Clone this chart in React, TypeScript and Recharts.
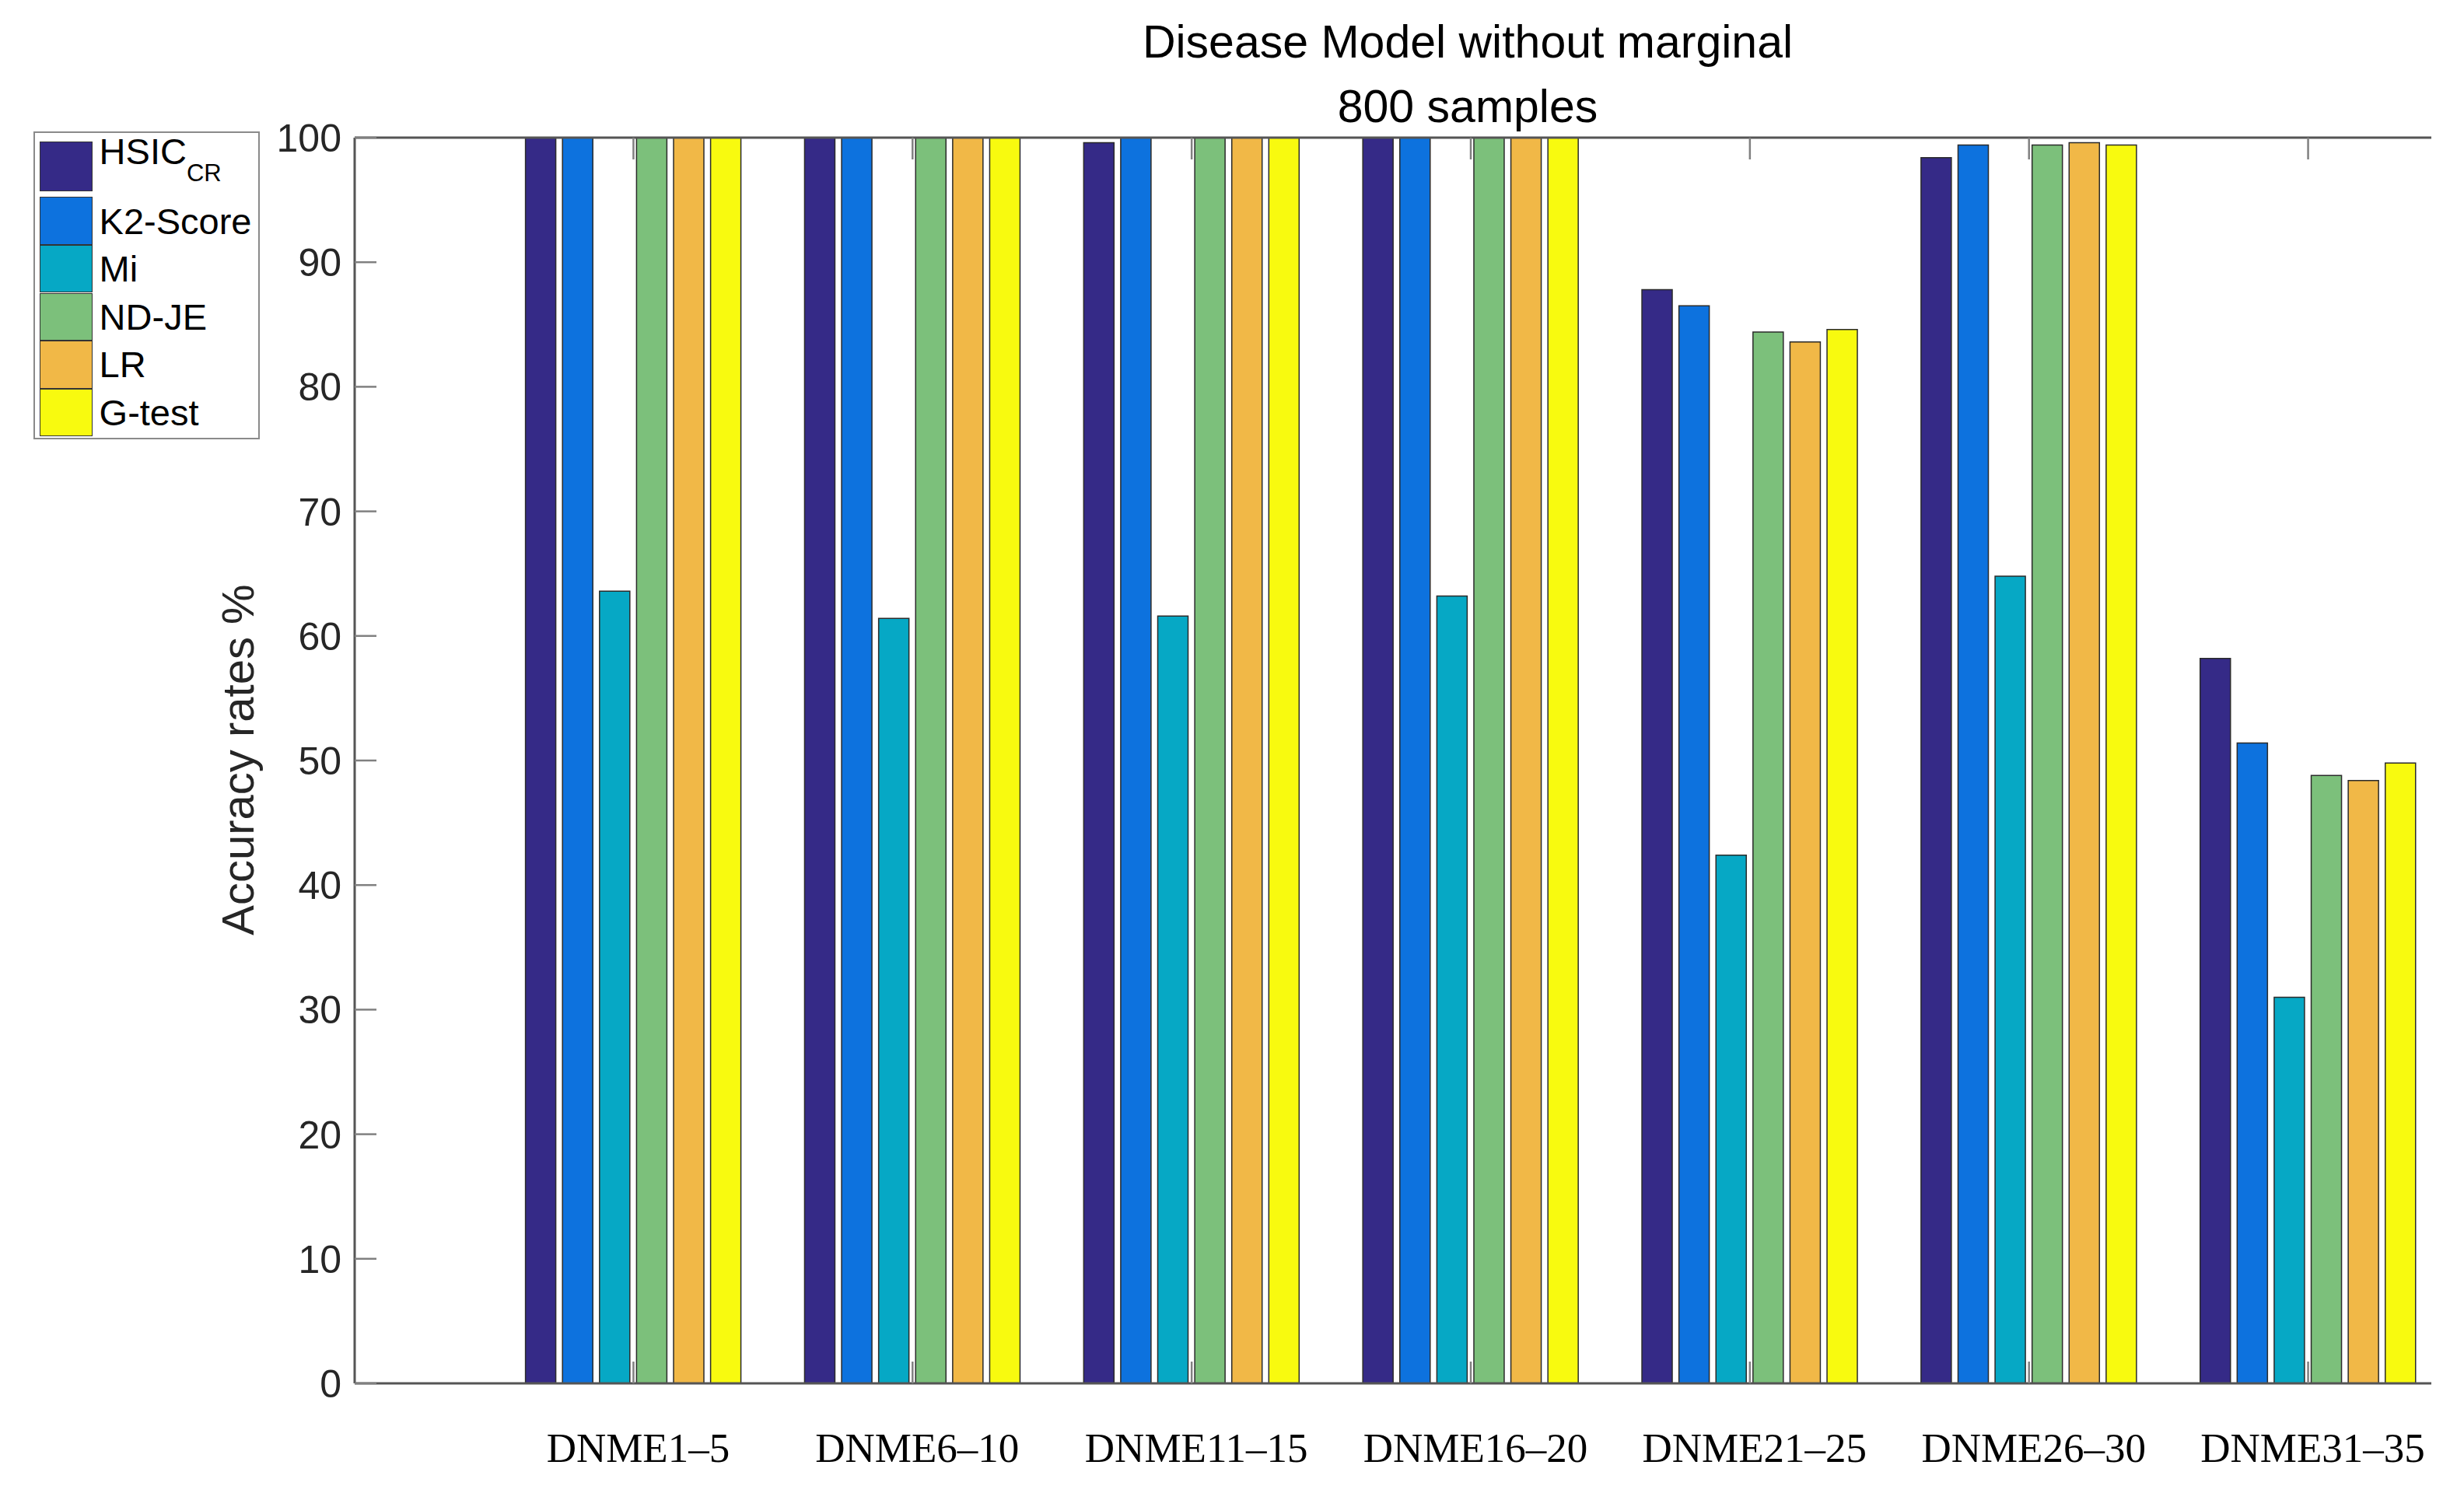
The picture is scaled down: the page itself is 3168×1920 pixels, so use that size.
import React from "react";
import { Bar, BarChart, ReferenceLine, XAxis, YAxis } from "recharts";

const CATEGORIES = [
  "DNME1–5", "DNME6–10", "DNME11–15", "DNME16–20", "DNME21–25", "DNME26–30", "DNME31–35",
];
const HSIC = [100, 100, 99.6, 100, 87.8, 98.4, 58.2];
const K2 = [100, 100, 100, 100, 86.5, 99.4, 51.4];
const MI = [63.6, 61.4, 61.6, 63.2, 42.4, 64.8, 31.0];
const NDJE = [100, 100, 100, 100, 84.4, 99.4, 48.8];
const LR = [100, 100, 100, 100, 83.6, 99.6, 48.4];
const GTEST = [100, 100, 100, 100, 84.6, 99.4, 49.8];
const Y_TICKS = [0, 10, 20, 30, 40, 50, 60, 70, 80, 90, 100];

const SERIES = [
  { key: "hsic", name: "HSIC", sub: "CR", color: "#352A87", values: HSIC },
  { key: "k2", name: "K2-Score", sub: "", color: "#0D72DE", values: K2 },
  { key: "mi", name: "Mi", sub: "", color: "#06A8C5", values: MI },
  { key: "ndje", name: "ND-JE", sub: "", color: "#7CC07B", values: NDJE },
  { key: "lr", name: "LR", sub: "", color: "#F1B847", values: LR },
  { key: "gtest", name: "G-test", sub: "", color: "#F8FA0F", values: GTEST },
];

const data = CATEGORIES.map((name, i) => {
  const row: Record<string, string | number> = { name };
  SERIES.forEach((s) => { row[s.key] = s.values[i]; });
  return row;
});

const W = 3168;
const H = 1920;
const PLOT_LEFT = 456;
const PLOT_RIGHT = 3126;
const PLOT_TOP = 177;
const PLOT_BOTTOM = 1779;
const TICK_LEN = 28;
const SANS = "'Liberation Sans', Arial, Helvetica, sans-serif";
const SERIF = "'Liberation Serif', 'Times New Roman', serif";

function YTick({ y, payload }: any) {
  return (
    <g>
      <line x1={PLOT_LEFT} x2={PLOT_LEFT + TICK_LEN} y1={y} y2={y} stroke="#808080" strokeWidth={2.5} />
      <text x={PLOT_LEFT - 17} y={y} dy="0.36em" textAnchor="end" fontSize={50} fontFamily={SANS} fill="#262626">
        {payload.value}
      </text>
    </g>
  );
}

function XTick({ x, payload }: any) {
  return (
    <g>
      <line x1={x} x2={x} y1={PLOT_BOTTOM} y2={PLOT_BOTTOM - TICK_LEN} stroke="#808080" strokeWidth={2.5} />
      <line x1={x} x2={x} y1={PLOT_TOP} y2={PLOT_TOP + TICK_LEN} stroke="#808080" strokeWidth={2.5} />
      <text x={x + 6} y={1880} textAnchor="middle" fontSize={53} fontFamily={SERIF} fill="#000">
        {payload.value}
      </text>
    </g>
  );
}

function YLabel() {
  return (
    <text
      x={326} y={977} transform="rotate(-90, 326, 977)" textAnchor="middle"
      fontSize={58} fontFamily={SANS} fill="#262626"
    >
      Accuracy rates %
    </text>
  );
}

function LegendBox() {
  return (
    <div
      style={{
        position: "absolute", left: 43, top: 169, width: 291, height: 396,
        border: "2px solid #8a8a8a", boxSizing: "border-box", background: "#fff",
        fontFamily: SANS, fontSize: 47, color: "#000",
      }}
    >
      {SERIES.map((s, i) => {
        const top = i === 0 ? 11 : 82.3 + (i - 1) * 61.6;
        const h = i === 0 ? 64 : 61.6;
        return (
          <div key={s.key} style={{ position: "absolute", left: 6, top, height: h, width: 280, display: "flex", alignItems: "center" }}>
            <div style={{ width: 67.6, height: h, background: s.color, border: "1.5px solid #333", boxSizing: "border-box", flex: "none" }} />
            <span style={{ marginLeft: 9, lineHeight: "47px", whiteSpace: "nowrap", position: "relative", top: s.sub ? -6 : 0 }}>
              {s.name}
              {s.sub && <span style={{ fontSize: 31, verticalAlign: "-22px" }}>{s.sub}</span>}
            </span>
          </div>
        );
      })}
    </div>
  );
}

export default function App() {
  return (
    <div style={{ position: "absolute", left: 0, top: 0, width: W, height: H, background: "#fff", overflow: "hidden" }}>
      <BarChart
        width={W}
        height={H}
        data={data}
        margin={{ top: PLOT_TOP, right: W - PLOT_RIGHT, bottom: H - PLOT_BOTTOM - 100, left: PLOT_LEFT - 100 }}
        barCategoryGap={40.6}
        barGap={8.6}
      >
        <XAxis
          dataKey="name"
          height={100}
          padding={{ left: 179, right: -21 }}
          axisLine={{ stroke: "#555", strokeWidth: 3 }}
          tickLine={false}
          tick={<XTick />}
          interval={0}
        />
        <YAxis
          width={100}
          domain={[0, 100]}
          ticks={Y_TICKS}
          axisLine={{ stroke: "#555", strokeWidth: 3 }}
          tickLine={false}
          tick={<YTick />}
          label={<YLabel />}
        />
        {SERIES.map((s) => (
          <Bar
            key={s.key}
            dataKey={s.key}
            name={s.name}
            fill={s.color}
            stroke="#2b2b2b"
            strokeWidth={1.5}
            isAnimationActive={false}
          />
        ))}
        <ReferenceLine y={100} stroke="#555" strokeWidth={3} />
      </BarChart>
      <div
        style={{
          position: "absolute", left: 1887 - 700, top: 13, width: 1400, textAlign: "center",
          fontFamily: SANS, fontSize: 59, lineHeight: "83px", color: "#000",
        }}
      >
        <div>Disease Model without marginal</div>
        <div>800 samples</div>
      </div>
      <LegendBox />
    </div>
  );
}
